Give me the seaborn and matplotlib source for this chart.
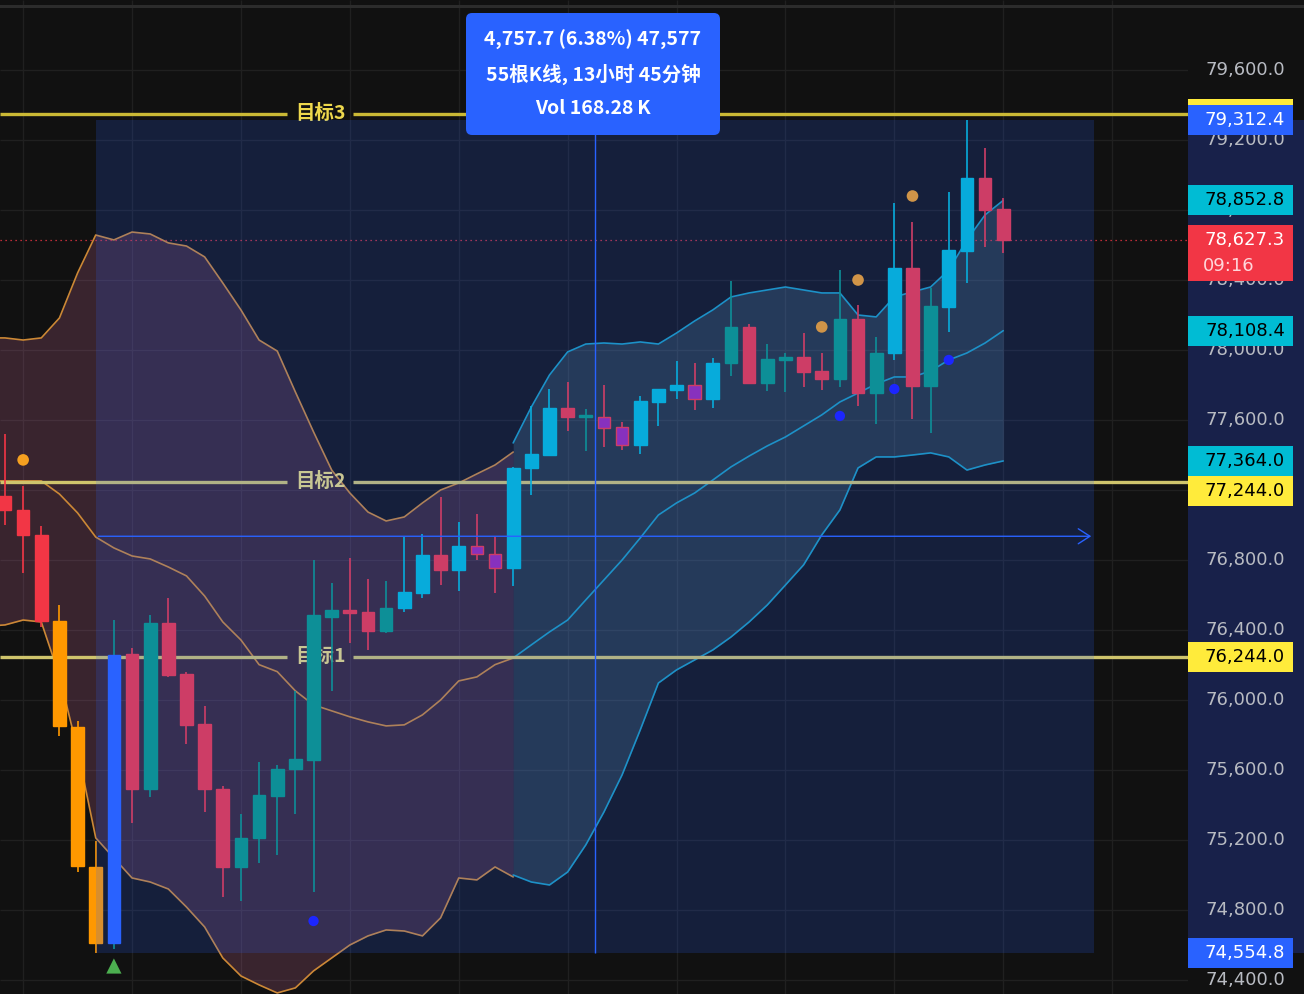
import numpy as np
import pandas as pd
import matplotlib
matplotlib.use('Agg')
import matplotlib.pyplot as plt
import seaborn as sns
from matplotlib.patches import Rectangle, FancyBboxPatch

# --- candles (bar index 0..55) ---
opens = [77166, 77086, 76942, 76449, 75844, 75045, 74609, 76259, 75488, 76438,
         76144, 75859, 75488, 75045, 75207, 75451, 75602, 75657, 76473, 76513,
         76501, 76393, 76524, 76610, 76827, 76741, 76878, 76833, 76753, 77324,
         77399, 77667, 77616, 77616, 77559, 77456, 77701, 77770, 77799, 77719,
         77924, 78131, 77811, 77943, 77960, 77880, 77834, 78177, 77754, 77983,
         78469, 77794, 78246, 78566, 78983, 78806]
closes = [77082, 76942, 76449, 75851, 75049, 74609, 76255, 75488, 76438, 76140,
          75855, 75488, 75045, 75207, 75456, 75602, 75661, 76482, 76513, 76496,
          76393, 76524, 76615, 76827, 76741, 76878, 76833, 76753, 77324, 77404,
          77667, 77616, 77620, 77553, 77456, 77708, 77776, 77799, 77719, 77924,
          78131, 77811, 77948, 77960, 77874, 77834, 78177, 77754, 77983, 78469,
          77794, 78251, 78571, 78983, 78800, 78627.3]
highs = [77518, 77220, 76993, 76542, 75877, 75192, 76453, 76298, 76486, 76583,
         76157, 75963, 75505, 75348, 75643, 75628, 76050, 76798, 76667, 76810,
         76690, 76678, 76930, 76947, 77158, 77015, 77061, 76930, 77330, 77678,
         77776, 77816, 77661, 77799, 77587, 77736, 77776, 77936, 77924, 77953,
         78394, 78148, 78034, 77983, 78097, 77983, 78457, 78257, 78074, 78840,
         78731, 78354, 78903, 79312.4, 79154, 78869]
lows = [76996, 76726, 76417, 75795, 75013, 74554.8, 74575, 75293, 75445, 76130,
        75747, 75358, 74873, 74851, 75067, 75110, 75347, 74901, 76050, 76325,
        76284, 76381, 76501, 76581, 76655, 76621, 76798, 76610, 76650, 77170,
        77399, 77536, 77422, 77444, 77427, 77404, 77564, 77719, 77656, 77667,
        77850, 77806, 77766, 77760, 77789, 77771, 77789, 77680, 77577, 77943,
        77606, 77526, 78103, 78383, 78589, 78554]
kinds = ['red', 'red', 'red', 'orange', 'orange', 'orange', 'blue', 'red', 'teal', 'red',
         'red', 'red', 'red', 'teal', 'teal', 'teal', 'teal', 'teal', 'teal', 'red',
         'red', 'teal', 'cyan', 'cyan', 'red', 'cyan', 'purple', 'purple', 'cyan', 'cyan',
         'cyan', 'red', 'teal', 'purple', 'purple', 'cyan', 'cyan', 'cyan', 'purple', 'cyan',
         'teal', 'red', 'teal', 'teal', 'red', 'red', 'teal', 'red', 'teal', 'cyan',
         'red', 'teal', 'cyan', 'cyan', 'red', 'red']

# --- bollinger-style bands ---
left_bars = list(range(-1, 29))
left_upper = [78067, 78067, 78055, 78067, 78181, 78438, 78655, 78627, 78672, 78661,
              78610, 78592, 78530, 78381, 78227, 78055, 77992, 77758, 77530, 77312,
              77181, 77072, 77021, 77044, 77124, 77198, 77238, 77290, 77341, 77415]
left_mid = [77250, 77250, 77250, 77250, 77175, 77067, 76929, 76867, 76821, 76804,
            76758, 76707, 76592, 76444, 76341, 76200, 76160, 76050, 75970, 75936,
            75902, 75873, 75850, 75856, 75913, 75998, 76107, 76130, 76200, 76238]
left_low = [76420, 76427, 76455, 76444, 76135, 75713, 75210, 75095, 74981, 74958,
            74918, 74815, 74701, 74524, 74421, 74370, 74324, 74353, 74450, 74524,
            74598, 74650, 74684, 74678, 74650, 74753, 74981, 74970, 75044, 74987]
right_bars = list(range(28, 56))
right_upper = [77467, 77672, 77855, 77987, 78032, 78038, 78032, 78044, 78032, 78095,
               78164, 78227, 78301, 78324, 78341, 78358, 78341, 78324, 78324, 78198,
               78187, 78301, 78330, 78358, 78455, 78627, 78770, 78852.8]
right_mid = [76238, 76313, 76387, 76455, 76570, 76684, 76798, 76924, 77055, 77124,
             77181, 77255, 77330, 77392, 77450, 77501, 77564, 77627, 77701, 77752,
             77804, 77844, 77844, 77878, 77941, 77981, 78038, 78108.4]
right_low = [74998, 74958, 74941, 75015, 75170, 75358, 75570, 75827, 76095, 76170,
             76227, 76284, 76358, 76444, 76541, 76655, 76770, 76941, 77084, 77324,
             77387, 77387, 77398, 77410, 77387, 77312, 77341, 77364.0]

# --- signals ---
orange_dot_bars = [1, 45, 47, 50]
orange_dot_prices = [77370, 78130, 78398, 78878]
blue_dot_bars = [17, 46, 49, 52]
blue_dot_prices = [74735, 77621, 77775, 77941]
triangle_bar = 6
triangle_price = 74478

# --- levels / measure ---
targets = [('目标3', 79348), ('目标2', 77244.0), ('目标1', 76244.0)]
measure_start, measure_end = 5, 60
measure_low, measure_high = 74554.8, 79312.4
last_price = 78627.3
price_ticks = list(range(74400, 79601, 400))
tooltip_lines = ['4,757.7 (6.38%) 47,577', '55根K线, 13小时 45分钟', 'Vol 168.28\u2009K']

BG = '#111111'
BODY = {'red': '#f23645', 'orange': '#ff9800', 'blue': '#2962ff', 'teal': '#089981',
        'cyan': '#00bcd4', 'purple': '#9c27b0'}
WICK = {'red': '#f23645', 'orange': '#ff9800', 'blue': '#089981', 'teal': '#089981',
        'cyan': '#00bcd4', 'purple': '#f23645'}

sns.set_theme(style='dark')
plt.rcParams['font.family'] = ['DejaVu Sans', 'Noto Sans CJK SC']
CJK = ['Noto Sans CJK SC', 'DejaVu Sans']

W, H = 1304, 994
fig = plt.figure(figsize=(W / 100, H / 100), dpi=100, facecolor=BG)
ax = fig.add_axes([0, 0, 1188 / W, 1])
ax.set_facecolor(BG)
XLIM = (-0.275, 65.18)
YLIM = (74318, 79998)
ax.set_xlim(*XLIM)
ax.set_ylim(*YLIM)
ax.axis('off')

# grid
ax.vlines(np.arange(1, 66, 6), *YLIM, color='#202020', lw=1, zorder=0)
ax.hlines(price_ticks, *XLIM, color='#202020', lw=1, zorder=0)

# bands
lb = pd.DataFrame({'bar': left_bars, 'up': left_upper, 'mid': left_mid, 'low': left_low})
rb = pd.DataFrame({'bar': right_bars, 'up': right_upper, 'mid': right_mid, 'low': right_low})
ax.fill_between(lb['bar'], lb['low'], lb['up'], color='#ff82c2', alpha=0.17, lw=0, zorder=1)
ax.fill_between(rb['bar'], rb['low'], rb['up'], color='#7ab8cc', alpha=0.2, lw=0, zorder=1)
for col in ['up', 'mid', 'low']:
    sns.lineplot(data=lb, x='bar', y=col, ax=ax, color='#cc8836', lw=1.2, zorder=2)
    sns.lineplot(data=rb, x='bar', y=col, ax=ax, color='#1b9cbc', lw=1.2, zorder=2)

# current price line
ax.axhline(last_price, color='#f23645', ls=(0, (1, 3)), lw=0.9, zorder=2)

# target levels
for name, price in targets:
    lc = '#cbb935' if name == '目标3' else '#cfc46c'
    tc = '#eed84c' if name == '目标3' else '#ecdc7c'
    ax.hlines(price, XLIM[0], 15.55, color=lc, lw=2.4, zorder=2.5)
    ax.hlines(price, 19.15, XLIM[1], color=lc, lw=2.4, zorder=2.5)
    ax.text(17.36, price, name, ha='center', va='center', color=tc, fontsize=14,
            weight='bold', family=CJK, zorder=2.6)

# candles
bars = np.arange(len(opens))
o = np.array(opens, dtype=float)
c = np.array(closes, dtype=float)
body_h = c - o
body_h = np.where(np.abs(body_h) < 8, 8, body_h)
ax.vlines(bars, lows, highs, colors=[WICK[k] for k in kinds], lw=1.2, zorder=3)
ax.bar(bars, body_h, bottom=o, width=0.7, color=[BODY[k] for k in kinds],
       edgecolor=[WICK[k] if k == 'purple' else BODY[k] for k in kinds], lw=1, zorder=3.5)

# signal dots
sns.scatterplot(x=orange_dot_bars, y=orange_dot_prices, ax=ax, color='#f5a020', s=70,
                edgecolor='none', zorder=4)
sns.scatterplot(x=blue_dot_bars, y=blue_dot_prices, ax=ax, color='#1a1aff', s=55,
                edgecolor='none', zorder=4)
ax.scatter([triangle_bar], [triangle_price], marker='^', s=120, color='#4caf50',
           edgecolor='none', zorder=6)

# measure overlay
ax.add_patch(Rectangle((measure_start, measure_low), measure_end - measure_start,
                       measure_high - measure_low, fc='#2962ff', alpha=0.18, lw=0, zorder=5))
mid_bar = (measure_start + measure_end) / 2
mid_price = (measure_low + measure_high) / 2
ax.vlines(mid_bar, measure_low, measure_high, color='#2962ff', lw=1, zorder=6)
ax.annotate('', xy=(measure_end, mid_price), xytext=(measure_start, mid_price),
            arrowprops=dict(arrowstyle='->,head_length=0.7,head_width=0.45',
                            color='#2962ff', lw=1), zorder=6)

# price scale
pax = fig.add_axes([1188 / W, 0, 116 / W, 1])
pax.set_facecolor(BG)
pax.set_xlim(0, 1)
pax.set_ylim(*YLIM)
pax.axis('off')
pax.add_patch(Rectangle((0, measure_low), 1, measure_high - measure_low, fc='#18214a',
                        lw=0, zorder=0))
for t in price_ticks:
    pax.text(0.836, t, f'{t:,.1f}', ha='right', va='center', color='#b8bbc2',
             fontsize=13, zorder=1)

ppx = (YLIM[1] - YLIM[0]) / H  # price per pixel


def tag(center, text, fc, tc, h=30):
    pax.add_patch(Rectangle((0, center - h / 2 * ppx), 0.905, h * ppx, fc=fc, lw=0, zorder=2))
    if text:
        pax.text(0.836, center, text, ha='right', va='center', color=tc, fontsize=13, zorder=3)


tag(targets[0][1], '', '#ffeb3b', 'black')
tag(measure_high, f'{measure_high:,.1f}', '#2962ff', 'white')
tag(right_upper[-1], f'{right_upper[-1]:,.1f}', '#00bcd4', 'black')
tag(right_mid[-1], f'{right_mid[-1]:,.1f}', '#00bcd4', 'black')
tag(right_low[-1], f'{right_low[-1]:,.1f}', '#00bcd4', 'black')
tag(targets[1][1] - 9 * ppx, f'{targets[1][1]:,.1f}', '#ffeb3b', 'black')
tag(targets[2][1], f'{targets[2][1]:,.1f}', '#ffeb3b', 'black')
tag(measure_low, f'{measure_low:,.1f}', '#2962ff', 'white')
# last price with countdown
pax.add_patch(Rectangle((0, last_price - 41 * ppx), 0.905, 56 * ppx, fc='#f23645', lw=0, zorder=2))
pax.text(0.836, last_price, f'{last_price:,.1f}', ha='right', va='center', color='white',
         fontsize=13, zorder=3)
pax.text(0.13, last_price - 26 * ppx, '09:16', ha='left', va='center', color='#ffd6da',
         fontsize=13, zorder=3)

# top strip
fig.patches.append(Rectangle((0, 1 - 8 / H), 1, 3 / H, transform=fig.transFigure,
                             fc='#2c2c2c', lw=0))

# tooltip
tax = fig.add_axes([466 / W, 1 - 135 / H, 254 / W, 122 / H])
tax.axis('off')
tax.set_xlim(0, 1)
tax.set_ylim(0, 1)
tax.add_patch(FancyBboxPatch((0, 0), 1, 1, boxstyle='round,pad=0,rounding_size=0.024',
                             mutation_aspect=2.08, fc='#2962ff', lw=0, transform=tax.transAxes,
                             clip_on=False))
for yy, line in zip([0.779, 0.5, 0.221], tooltip_lines):
    tax.text(0.5, yy, line, ha='center', va='center', color='white', fontsize=14,
             weight='bold', family=CJK)

fig.savefig('out.png', dpi=100, facecolor=BG)
